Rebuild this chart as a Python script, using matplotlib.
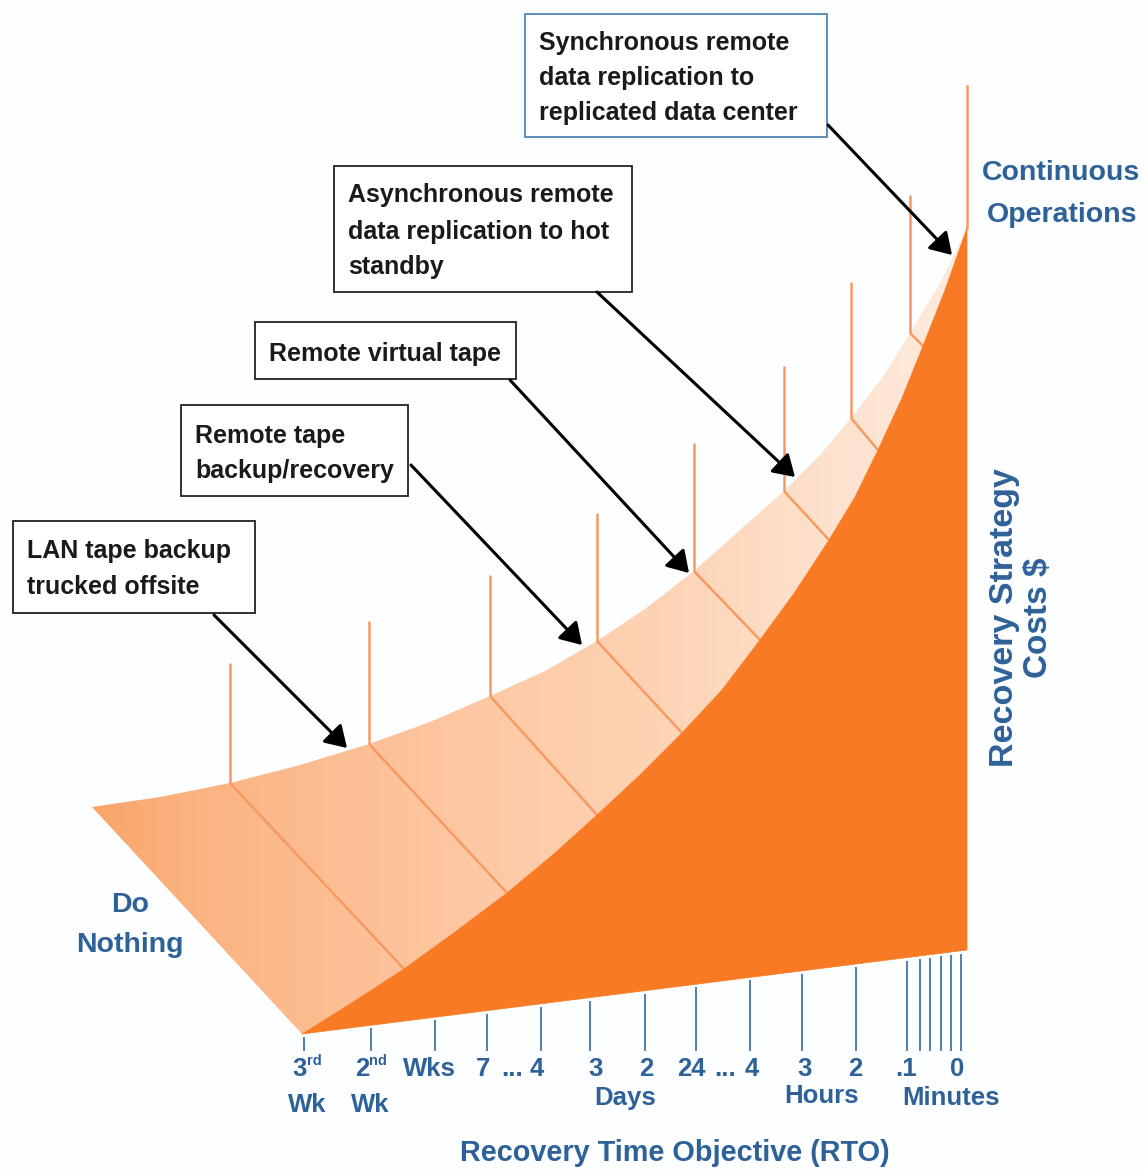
import numpy as np
import matplotlib
matplotlib.use("Agg")
import matplotlib.pyplot as plt
from matplotlib.colors import LinearSegmentedColormap
from matplotlib.patches import Polygon, Rectangle

W, H = 1146, 1172
BLUE = "#2f6199"
ORANGE = "#f97a24"
RIB = "#f79a62"
BG = "#fcfeff"

# upper edge of the cost surface, left to right
top_x = [92, 160, 230, 300, 369, 430, 490, 545, 597, 645, 694, 740, 784, 820, 851, 882, 910, 940, 967]
top_y = [807, 797, 783, 765, 744, 722, 696, 671, 641, 609, 571, 530, 491, 455, 418, 378, 333, 283, 228]

# edge between the pale surface and the dark front face
front_x = [302, 350, 404, 455, 507, 555, 597, 640, 682, 722, 760, 795, 829, 855, 878, 902, 923, 945, 967]
front_y = [1034, 1004, 969, 932, 893, 853, 815, 775, 733, 690, 640, 592, 540, 497, 450, 398, 346, 290, 228]

# bottom of the dark face
base_x = [302, 967]
base_y = [1034, 950]

# strategy dividers: top point on the surface, foot on the front edge, tip of the riser
rib_x = [230, 369, 490, 597, 694, 784, 851, 910]
rib_y = [783, 744, 696, 641, 571, 491, 418, 333]
foot_x = [404, 507, 597, 682, 760, 829, 878, 923]
foot_y = [969, 893, 815, 733, 640, 540, 450, 346]
riser_y = [663, 621, 575, 513, 443, 366, 282, 195]
last_riser_x = 967
last_riser = [86, 228]

tick_x = [304, 371, 435, 487, 541, 590, 645, 696, 750, 802, 856, 907, 920, 930, 941, 951, 961]
tick_end = 1050

boxes = [
    ((13, 521, 242, 92), ["LAN tape backup", "trucked offsite"], "#222222", (27, [550, 586])),
    ((181, 405, 227, 91), ["Remote tape", "backup/recovery"], "#222222", (195, [435, 470])),
    ((255, 322, 261, 57), ["Remote virtual tape"], "#222222", (269, [353])),
    ((334, 166, 298, 126), ["Asynchronous remote", "data replication to hot", "standby"], "#222222", (348, [194, 231, 266])),
    ((525, 14, 302, 123), ["Synchronous remote", "data replication to", "replicated data center"], "#4f86b5", (539, [42, 77, 112])),
]
arrow_from = [(214, 615), (411, 465), (510, 380), (597, 292), (828, 125)]
arrow_to = [(347, 748), (582, 645), (689, 573), (795, 477), (952, 255)]

axis_labels = ["Wks", "7", "...", "4", "3", "2", "24", "...", "4", "3", "2", ".1", "0"]
axis_label_x = [429, 483, 512, 537, 596, 646, 691, 725, 752, 805, 855, 906, 957]

plt.rcParams["font.family"] = ["Liberation Sans", "DejaVu Sans"]

fig = plt.figure(figsize=(W / 100, H / 100), dpi=100, facecolor=BG)
ax = fig.add_axes([0, 0, 1, 1])
ax.set_xlim(0, W)
ax.set_ylim(H, 0)
ax.axis("off")

# pale surface, shaded lighter towards the right
pale = list(zip(top_x, top_y)) + list(zip(front_x[::-1], front_y[::-1]))
pale_patch = Polygon(pale, closed=True, fc="none", ec="none")
ax.add_patch(pale_patch)
cmap = LinearSegmentedColormap.from_list("surface", [
    (0.0, "#f8a468"), (0.1, "#fbb27f"), (0.25, "#fcbc90"), (0.45, "#fec9a5"),
    (0.65, "#fdd3b4"), (0.82, "#fde0ca"), (1.0, "#feecdf"),
])
grad = ax.imshow(np.linspace(0, 1, 256).reshape(1, -1), cmap=cmap, aspect="auto",
                 extent=(92, 967, 1034, 228), zorder=1)
grad.set_clip_path(pale_patch)
ax.set_xlim(0, W)
ax.set_ylim(H, 0)

# dark front face
dark = list(zip(front_x, front_y)) + [(base_x[1], base_y[1])]
ax.add_patch(Polygon(dark, closed=True, fc=ORANGE, ec=ORANGE, lw=0.5, zorder=3))

for x, y, fx, fy, ry in zip(rib_x, rib_y, foot_x, foot_y, riser_y):
    ax.plot([x, fx], [y, fy], color=RIB, lw=1.8, zorder=2, solid_capstyle="butt")
    ax.plot([x, x], [ry, y], color=RIB, lw=1.8, zorder=2, solid_capstyle="butt")
ax.plot([last_riser_x] * 2, last_riser, color=RIB, lw=1.8, zorder=2)

# time axis ticks hang off the bottom of the dark face
for x in tick_x:
    edge = np.interp(x, base_x, base_y)
    ax.plot([x, x], [edge + 4, tick_end], color="#4f7fae", lw=1.4, zorder=2)


def blue(x, y, s, size=18.5, **kw):
    kw.setdefault("ha", "center")
    kw.setdefault("va", "center")
    ax.text(x, y, s, color=BLUE, fontsize=size, fontweight="bold", zorder=5, **kw)


blue(1061, 173, "Continuous", size=20.5)
blue(1062, 215, "Operations", size=20.5)
blue(130, 905, "Do", size=20.5)
blue(130, 945, "Nothing", size=20.5)
blue(1004, 618, "Recovery Strategy", size=24.5, rotation=90)
blue(1038, 618, "Costs $", size=24, rotation=90)
blue(675, 1153, "Recovery Time Objective (RTO)", size=20.8)

blue(300, 1069, "3")
blue(314, 1061, "rd", size=10.5)
blue(307, 1105, "Wk")
blue(362, 1069, "2")
blue(378, 1061, "nd", size=10.5)
blue(370, 1105, "Wk")

# tick labels along the axis
for x, s in zip(axis_label_x, axis_labels):
    blue(x, 1069, s)
blue(625, 1098, "Days")
blue(822, 1096, "Hours")
blue(951, 1098, "Minutes")

for (x, y, w, h), lines, ec, (tx, tys) in boxes:
    ax.add_patch(Rectangle((x, y), w, h, fc="white", ec=ec, lw=1.3, zorder=6))
    for ty, s in zip(tys, lines):
        ax.text(tx, ty + 1, s, fontsize=18, fontweight="bold", color="#1a1a1a",
                ha="left", va="center", zorder=7)

for start, end in zip(arrow_from, arrow_to):
    ax.annotate("", xy=end, xytext=start, zorder=8,
                arrowprops=dict(arrowstyle="-|>,head_length=0.8,head_width=0.5",
                                mutation_scale=16, color="black", lw=2.2,
                                shrinkA=0, shrinkB=0))

fig.savefig("out.png", dpi=100, facecolor=BG)
